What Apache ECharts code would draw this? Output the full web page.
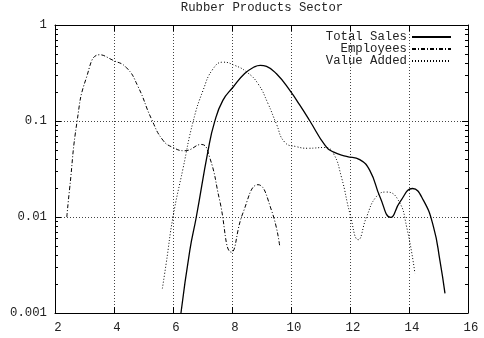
<!DOCTYPE html>
<html>
<head>
<meta charset="utf-8">
<script src="https://cdn.jsdelivr.net/npm/echarts@6/dist/echarts.min.js"></script>
<style>
  html, body { margin: 0; padding: 0; background: #fff; }
  #chart { width: 484px; height: 338px; }
</style>
</head>
<body>
<div id="chart"></div>
<script>
// Rubber Products Sector: three shares on a log scale, plotted against x.
const chartTitle = 'Rubber Products Sector';

const xMin = 2, xMax = 16, xStep = 2;
const yMin = 0.001, yMax = 1;
const yTickLabels = ['0.001', '0.01', '0.1', '1'];

// Minor log ticks (2..9 in each decade)
const yMinorTicks = [
  0.002, 0.003, 0.004, 0.005, 0.006, 0.007, 0.008, 0.009,
  0.02, 0.03, 0.04, 0.05, 0.06, 0.07, 0.08, 0.09,
  0.2, 0.3, 0.4, 0.5, 0.6, 0.7, 0.8, 0.9
];

const seriesNames = ['Total Sales', 'Employees', 'Value Added'];

const totalSales = [
  [6.27, 0.001], [6.57, 0.0045], [6.79, 0.010], [7.19, 0.0495], [7.41, 0.098],
  [7.69, 0.164], [8.04, 0.226], [8.43, 0.312], [8.75, 0.365], [8.96, 0.38], [9.17, 0.37],
  [9.50, 0.312], [9.96, 0.209], [10.30, 0.146], [10.64, 0.10],
  [11.15, 0.056], [11.43, 0.0476], [11.88, 0.0429], [12.33, 0.0396], [12.67, 0.0306],
  [13.02, 0.0161], [13.38, 0.0099], [13.69, 0.0143], [14.12, 0.0198], [14.49, 0.0149],
  [14.83, 0.0079], [15.05, 0.0035], [15.22, 0.0016]
];

const employees = [
  [2.40, 0.010], [2.49, 0.019], [2.75, 0.10], [3.06, 0.28], [3.51, 0.49],
  [3.96, 0.43], [4.42, 0.36], [4.81, 0.23], [5.27, 0.105], [5.66, 0.063],
  [6.00, 0.053], [6.39, 0.049], [6.96, 0.057], [7.24, 0.042], [7.58, 0.015],
  [7.98, 0.0043], [8.37, 0.011], [8.88, 0.0217], [9.34, 0.0117], [9.62, 0.0049]
];

const valueAdded = [
  [5.64, 0.0018], [5.77, 0.0033], [6.00, 0.010], [6.34, 0.032], [6.68, 0.098],
  [7.02, 0.209], [7.36, 0.35], [7.70, 0.41], [8.09, 0.38], [8.49, 0.325],
  [8.88, 0.245], [9.22, 0.152], [9.50, 0.094], [9.79, 0.060], [10.19, 0.054],
  [10.58, 0.052], [11.15, 0.053], [11.43, 0.0464], [11.71, 0.026], [12.00, 0.0108],
  [12.28, 0.0058], [12.56, 0.010], [12.90, 0.0164], [13.24, 0.0182], [13.64, 0.0149],
  [13.92, 0.0079], [14.20, 0.0026]
];

const FONT = 'Liberation Mono';
const TEXT_COLOR = '#222';
const GRID_LINE = { color: '#444', width: 1, type: [1, 2] };

function yLabel(v) {
  const k = Math.round(Math.log10(v)) + 3;
  return yTickLabels[k] !== undefined ? yTickLabels[k] : '';
}

const chart = echarts.init(document.getElementById('chart'), null, { renderer: 'canvas' });

const lineBase = {
  type: 'line',
  smooth: 0.5,
  symbol: 'none',
  showSymbol: false,
  silent: true,
  animation: false,
  clip: true
};

chart.setOption({
  animation: false,
  backgroundColor: '#fff',
  title: {
    text: chartTitle,
    left: 262,
    top: 2,
    padding: 0,
    textAlign: 'center',
    textStyle: { fontFamily: FONT, fontSize: 12.3, fontWeight: 'normal', color: TEXT_COLOR }
  },
  legend: {
    data: seriesNames,
    orient: 'vertical',
    align: 'right',
    right: 32,
    top: 31,
    padding: 0,
    itemWidth: 39,
    itemHeight: 12,
    itemGap: 0,
    selectedMode: false,
    itemStyle: { opacity: 0, borderWidth: 0 },
    textStyle: { fontFamily: FONT, fontSize: 12.3, color: TEXT_COLOR, lineHeight: 12 }
  },
  grid: { left: 55, right: 16, top: 25, bottom: 25, containLabel: false },
  xAxis: [
    {
      type: 'value', min: xMin, max: xMax, interval: xStep,
      axisLine: { show: true, lineStyle: { color: '#000', width: 1 } },
      axisTick: { show: true, inside: true, length: 6, lineStyle: { color: '#000' } },
      axisLabel: { fontFamily: FONT, fontSize: 12.3, color: TEXT_COLOR, margin: 9, padding: [0, 0, 0, 6] },
      splitLine: { show: true, lineStyle: GRID_LINE }
    },
    {
      type: 'value', position: 'top', min: xMin, max: xMax, interval: xStep,
      axisLine: { show: true, lineStyle: { color: '#000', width: 1 } },
      axisTick: { show: true, inside: true, length: 6, lineStyle: { color: '#000' } },
      axisLabel: { show: false },
      splitLine: { show: false }
    }
  ],
  yAxis: [
    {
      type: 'log', logBase: 10, min: yMin, max: yMax,
      axisLine: { show: true, lineStyle: { color: '#000', width: 1 } },
      axisTick: { show: true, inside: true, length: 6, lineStyle: { color: '#000' } },
      axisLabel: { fontFamily: FONT, fontSize: 12.3, color: TEXT_COLOR, margin: 8, formatter: yLabel },
      splitLine: { show: true, lineStyle: GRID_LINE }
    },
    {
      type: 'log', logBase: 10, min: yMin, max: yMax, position: 'right',
      axisLine: { show: true, lineStyle: { color: '#000', width: 1 } },
      axisTick: { show: true, inside: true, length: 6, lineStyle: { color: '#000' } },
      axisLabel: { show: false },
      splitLine: { show: false }
    }
  ],
  series: [
    Object.assign({}, lineBase, {
      name: seriesNames[0], data: totalSales, z: 5,
      lineStyle: { color: '#000', width: 1.3, type: 'solid' },
      itemStyle: { color: '#000' }
    }),
    Object.assign({}, lineBase, {
      name: seriesNames[1], data: employees, z: 4,
      lineStyle: { color: '#000', width: 1, type: [4, 2, 1, 2] },
      itemStyle: { color: '#000' }
    }),
    Object.assign({}, lineBase, {
      name: seriesNames[2], data: valueAdded, z: 4,
      lineStyle: { color: '#000', width: 1, type: [1, 2] },
      itemStyle: { color: '#000' }
    }),
    {
      // minor log ticks on the left and right borders
      name: 'minorTicks',
      type: 'custom',
      silent: true,
      clip: false,
      z: 6,
      data: yMinorTicks.map(v => [v]),
      renderItem: function (params, api) {
        const v = api.value(0);
        const l = api.coord([xMin, v]);
        const r = api.coord([xMax, v]);
        const y = Math.round(l[1]) + 0.5;
        return {
          type: 'group',
          children: [
            { type: 'line', shape: { x1: l[0], y1: y, x2: l[0] + 3, y2: y }, style: { stroke: '#000', lineWidth: 1 } },
            { type: 'line', shape: { x1: r[0] - 3, y1: y, x2: r[0], y2: y }, style: { stroke: '#000', lineWidth: 1 } }
          ]
        };
      },
      encode: { y: 0 }
    }
  ]
});
</script>
</body>
</html>
